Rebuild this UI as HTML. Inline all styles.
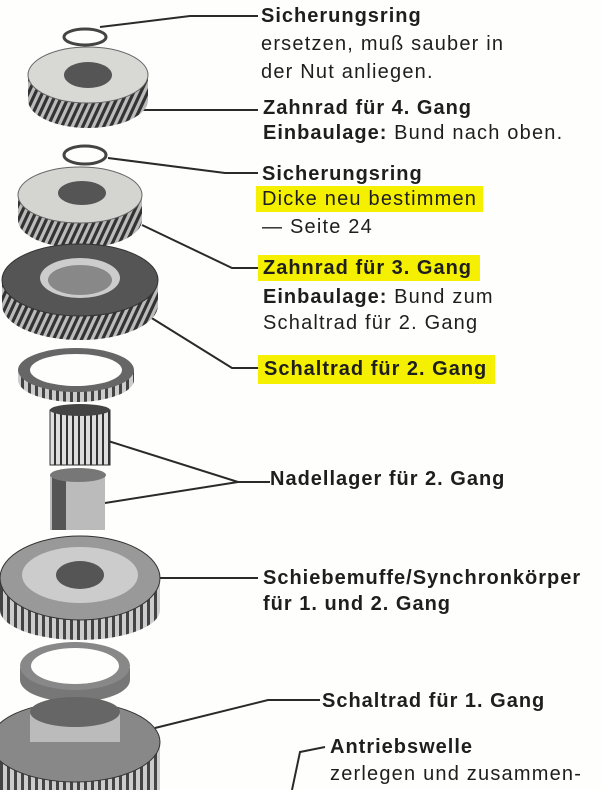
<!DOCTYPE html>
<html><head><meta charset="utf-8"><style>
html,body{margin:0;padding:0;background:#fefefc;}
#c{position:relative;width:601px;height:790px;overflow:hidden;font-family:"Liberation Sans",sans-serif;color:#1e1e1e;}
.t{position:absolute;font-size:20px;letter-spacing:1.2px;white-space:nowrap;line-height:22px;}
.b{font-weight:bold;letter-spacing:1px;}
.h{background:#f4f000;}
svg{position:absolute;left:0;top:0;}
</style></head><body><div id="c">
<svg width="601" height="790" viewBox="0 0 601 790">
<defs>
<pattern id="teeth" width="7" height="10" patternUnits="userSpaceOnUse" patternTransform="skewX(-25)">
<rect width="7" height="10" fill="#bbb"/><rect width="3.5" height="10" fill="#333"/></pattern>
<pattern id="teeth2" width="7" height="10" patternUnits="userSpaceOnUse">
<rect width="7" height="10" fill="#ccc"/><rect width="3" height="10" fill="#444"/></pattern>
<pattern id="needle" width="6" height="10" patternUnits="userSpaceOnUse">
<rect width="6" height="10" fill="#ddd"/><rect width="2" height="10" fill="#333"/></pattern>
</defs>
<g stroke="#2a2a2a" stroke-width="2" fill="none">
<polyline points="100,27 190,16 258,16"/>
<polyline points="140,110 258,110"/>
<polyline points="108,158 225,173 258,173"/>
<polyline points="142,225 232,268 258,268"/>
<polyline points="142,312 232,368 258,368"/>
<polyline points="105,440 238,482 270,482"/>
<polyline points="105,503 238,482"/>
<polyline points="155,578 258,578"/>
<polyline points="155,728 268,700 320,700"/>
<polyline points="292,790 300,752 325,747"/>
</g>
<ellipse cx="85" cy="37" rx="21" ry="8" fill="none" stroke="#444" stroke-width="3"/>
<path d="M28,75 L28,100 A60,28 0 0 0 148,100 L148,75 Z" fill="url(#teeth)"/>
<ellipse cx="88" cy="75" rx="60" ry="28" fill="#d8d8d4" stroke="#666"/>
<ellipse cx="88" cy="75" rx="24" ry="13" fill="#555"/>
<ellipse cx="85" cy="155" rx="21" ry="9" fill="none" stroke="#444" stroke-width="3"/>
<path d="M18,195 L18,220 A62,28 0 0 0 142,220 L142,195 Z" fill="url(#teeth)"/>
<ellipse cx="80" cy="195" rx="62" ry="28" fill="#d4d4d0" stroke="#666"/>
<ellipse cx="82" cy="193" rx="24" ry="12" fill="#555"/>
<path d="M2,280 L2,305 A78,35 0 0 0 158,305 L158,280 Z" fill="url(#teeth)"/>
<ellipse cx="80" cy="280" rx="78" ry="36" fill="#555" stroke="#333"/>
<ellipse cx="80" cy="278" rx="40" ry="20" fill="#ccc"/>
<ellipse cx="80" cy="280" rx="32" ry="15" fill="#888"/>
<path d="M18,370 L18,380 A58,22 0 0 0 134,380 L134,370 Z" fill="url(#teeth2)"/>
<ellipse cx="76" cy="370" rx="58" ry="22" fill="#666"/>
<ellipse cx="76" cy="370" rx="46" ry="16" fill="#fefefc"/>
<rect x="50" y="410" width="60" height="55" fill="url(#needle)" stroke="#333"/>
<ellipse cx="80" cy="410" rx="30" ry="6" fill="#444"/>
<rect x="50" y="475" width="55" height="55" fill="#bbb"/>
<rect x="52" y="475" width="14" height="55" fill="#555"/>
<ellipse cx="78" cy="475" rx="28" ry="7" fill="#777"/>
<path d="M0,580 L0,610 A80,30 0 0 0 160,610 L160,580 Z" fill="url(#teeth2)"/>
<ellipse cx="80" cy="578" rx="80" ry="42" fill="#999" stroke="#333"/>
<ellipse cx="80" cy="575" rx="58" ry="28" fill="#ccc"/>
<ellipse cx="80" cy="575" rx="24" ry="14" fill="#555"/>
<path d="M20,668 L20,680 A55,22 0 0 0 130,680 L130,668 Z" fill="#777"/>
<ellipse cx="75" cy="666" rx="55" ry="24" fill="#888"/>
<ellipse cx="75" cy="666" rx="44" ry="18" fill="#fefefc"/>
<path d="M0,745 L0,790 L160,790 L160,745 Z" fill="url(#teeth2)"/>
<ellipse cx="75" cy="742" rx="85" ry="40" fill="#888" stroke="#333"/>
<rect x="30" y="712" width="90" height="30" fill="#bbb"/>
<ellipse cx="75" cy="712" rx="45" ry="15" fill="#666"/>
</svg>
<div class="t b" style="left:261px;top:5px">Sicherungsring</div>
<div class="t" style="left:261px;top:33px">ersetzen, muß sauber in</div>
<div class="t" style="left:261px;top:61px">der Nut anliegen.</div>
<div class="t b" style="left:263px;top:97px">Zahnrad für 4. Gang</div>
<div class="t" style="left:263px;top:122px"><b style="letter-spacing:1px">Einbaulage:</b> Bund nach oben.</div>
<div class="t b" style="left:262px;top:163px">Sicherungsring</div>
<div class="t h" style="left:256px;top:186px;padding:2px 6px 2px 6px">Dicke neu bestimmen</div>
<div class="t" style="left:262px;top:216px">— Seite 24</div>
<div class="t b h" style="left:258px;top:255px;padding:2px 8px 2px 5px">Zahnrad für 3. Gang</div>
<div class="t" style="left:263px;top:286px"><b style="letter-spacing:1px">Einbaulage:</b> Bund zum</div>
<div class="t" style="left:263px;top:312px">Schaltrad für 2. Gang</div>
<div class="t b h" style="left:258px;top:355px;padding:3px 8px 4px 6px">Schaltrad für 2. Gang</div>
<div class="t b" style="left:270px;top:468px">Nadellager für 2. Gang</div>
<div class="t b" style="left:263px;top:567px">Schiebemuffe/Synchronkörper</div>
<div class="t b" style="left:263px;top:593px">für 1. und 2. Gang</div>
<div class="t b" style="left:322px;top:690px">Schaltrad für 1. Gang</div>
<div class="t b" style="left:330px;top:736px">Antriebswelle</div>
<div class="t" style="left:330px;top:763px">zerlegen und zusammen-</div>
</div></body></html>
